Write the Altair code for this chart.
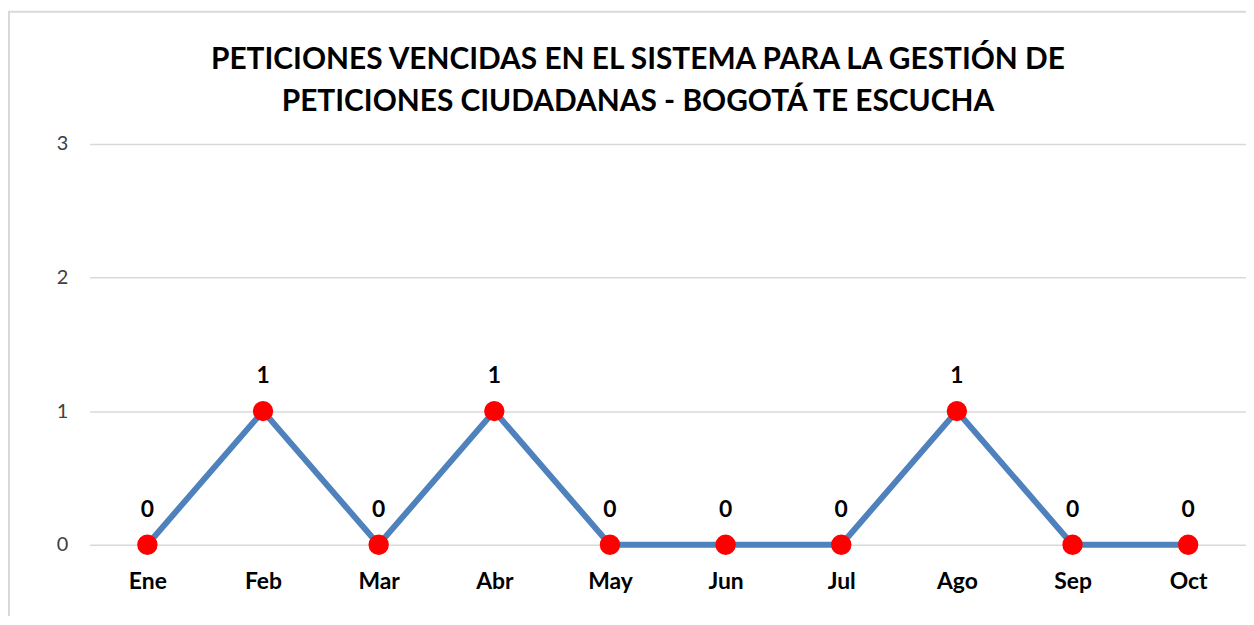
import altair as alt
import pandas as pd

months = ["Ene", "Feb", "Mar", "Abr", "May", "Jun", "Jul", "Ago", "Sep", "Oct"]
values = [0, 1, 0, 1, 0, 0, 0, 1, 0, 0]
title_lines = ["PETICIONES VENCIDAS EN EL SISTEMA PARA LA GESTIÓN DE",
               "PETICIONES CIUDADANAS - BOGOTÁ TE ESCUCHA"]

df = pd.DataFrame({"mes": months, "valor": values})

W, H = 1163, 403

x_enc = alt.X("mes:N", sort=months, title=None,
              scale=alt.Scale(paddingInner=0, paddingOuter=0),
              axis=alt.Axis(labelFont="Lato", labelFontWeight="bold", labelFontSize=23,
                            labelColor="#000000", labelAngle=0, labelPadding=26,
                            ticks=False, domain=False, grid=False))
y_enc = alt.Y("valor:Q", title=None,
              scale=alt.Scale(domain=[0, 3], nice=False),
              axis=alt.Axis(values=[0, 1, 2, 3], format="d", labelFont="Lato",
                            labelFontSize=20, labelColor="#404040", labelPadding=22,
                            ticks=False, domain=False, grid=True,
                            gridColor="#D9D9D9", gridWidth=1.5))

base = alt.Chart(df)

border = base.mark_rect(fill="transparent", stroke="#D9D9D9", strokeWidth=2).encode(
    x=alt.value(-81), x2=alt.value(W + 40),
    y=alt.value(-133), y2=alt.value(H + 120)
).transform_filter(alt.datum.mes == "Ene")

line = base.mark_line(color="#4F81BD", strokeWidth=6).encode(x=x_enc, y=y_enc)
points = base.mark_circle(color="#FF0000", opacity=1, size=420).encode(x=x_enc, y=y_enc)
labels = base.mark_text(font="Lato", fontWeight="bold", fontSize=23, color="#000000",
                        dy=-35).encode(x=x_enc, y=y_enc, text=alt.Text("valor:Q"))

chart = alt.layer(border, line, points, labels).properties(
    width=W, height=H, background="#FFFFFF",
    title=alt.TitleParams(text=title_lines, font="Lato", fontSize=30, fontWeight="bold",
                          color="#000000", anchor="middle", lineHeight=42, dx=-30,
                          offset=32, dy=139, frame="group"),
    autosize=alt.AutoSizeParams(type="none"),
    padding={"left": 82, "top": 135, "right": 0, "bottom": 70},
).configure_view(stroke=None, strokeWidth=0)

chart.save("out.html", embed_options={"renderer": "svg", "actions": False})
